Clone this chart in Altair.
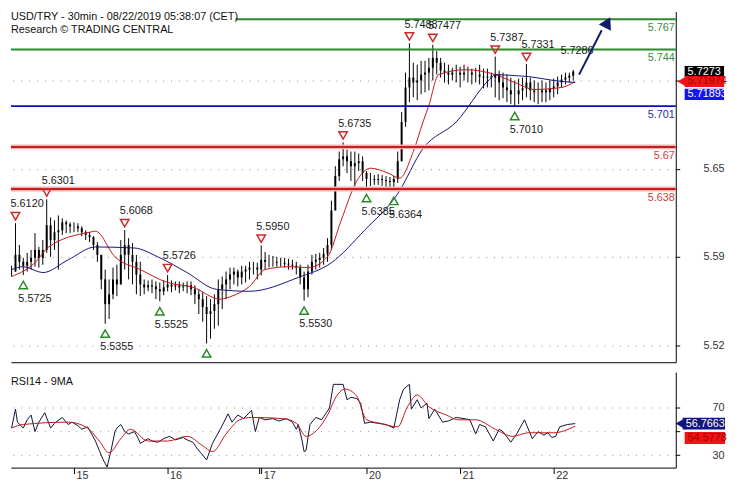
import altair as alt
import pandas as pd

FONT = "Liberation Sans"

# ---------------- data ----------------
# hourly bars, x = hours since 15 Aug 00:00 (weekend squeezed)
HOURS = list(range(-16, 129))
HIGH = [5.5796, 5.6120, 5.5954, 5.5856, 5.5894, 5.5916, 5.6044, 5.5939, 5.5991, 5.6301,
        5.6164, 5.6141, 5.6179, 5.6156, 5.6141, 5.6126, 5.6126, 5.6119, 5.6096, 5.6066,
        5.6051, 5.6021, 5.5976, 5.5879, 5.5767, 5.5692, 5.5782, 5.5804, 5.5991, 5.6068,
        5.6006, 5.5969, 5.5879, 5.5826, 5.5692, 5.5684, 5.5692, 5.5677, 5.5669, 5.5684,
        5.5726, 5.5684, 5.5677, 5.5677, 5.5669, 5.5677, 5.5677, 5.5647, 5.5617, 5.5594,
        5.5565, 5.5542, 5.5579, 5.5692, 5.5714, 5.5752, 5.5782, 5.5782, 5.5767, 5.5796,
        5.5796, 5.5826, 5.5826, 5.5819, 5.5950, 5.5901, 5.5879, 5.5871, 5.5864, 5.5856,
        5.5856, 5.5849, 5.5841, 5.5826, 5.5804, 5.5752, 5.5804, 5.5879, 5.5886, 5.5894,
        5.5931, 5.6006, 5.6291, 5.6553, 5.6665, 5.6735, 5.6680, 5.6665, 5.6665, 5.6650,
        5.6628, 5.6516, 5.6501, 5.6486, 5.6493, 5.6486, 5.6478, 5.6471, 5.6478, 5.6665,
        5.6965, 5.7265, 5.7488, 5.7340, 5.7325, 5.7355, 5.7355, 5.7377, 5.7477, 5.7429,
        5.7377, 5.7340, 5.7325, 5.7302, 5.7325, 5.7310, 5.7325, 5.7310, 5.7295, 5.7302,
        5.7325, 5.7295, 5.7295, 5.7265, 5.7387, 5.7280, 5.7265, 5.7250, 5.7227, 5.7205,
        5.7220, 5.7227, 5.7331, 5.7227, 5.7205, 5.7190, 5.7205, 5.7190, 5.7205, 5.7220,
        5.7235, 5.7250, 5.7265, 5.7265, 5.7286]
LOW = [5.5714, 5.5752, 5.5767, 5.5725, 5.5752, 5.5767, 5.5789, 5.5782, 5.5804, 5.5894,
       5.5864, 5.5916, 5.5767, 5.6029, 5.6044, 5.6044, 5.6051, 5.6051, 5.6021, 5.5991,
       5.5976, 5.5916, 5.5826, 5.5617, 5.5355, 5.5392, 5.5542, 5.5565, 5.5654, 5.5767,
       5.5692, 5.5654, 5.5579, 5.5565, 5.5579, 5.5602, 5.5587, 5.5542, 5.5525, 5.5572,
       5.5602, 5.5594, 5.5609, 5.5587, 5.5602, 5.5587, 5.5572, 5.5504, 5.5429, 5.5370,
       5.5205, 5.5242, 5.5317, 5.5340, 5.5467, 5.5542, 5.5617, 5.5654, 5.5639, 5.5654,
       5.5669, 5.5692, 5.5729, 5.5692, 5.5722, 5.5767, 5.5782, 5.5789, 5.5789, 5.5789,
       5.5782, 5.5767, 5.5767, 5.5729, 5.5654, 5.5530, 5.5557, 5.5729, 5.5767, 5.5782,
       5.5804, 5.5826, 5.5916, 5.6253, 5.6441, 5.6553, 5.6501, 5.6441, 5.6403, 5.6516,
       5.6441, 5.6385, 5.6403, 5.6411, 5.6411, 5.6403, 5.6396, 5.6396, 5.6364, 5.6426,
       5.6591, 5.6853, 5.7040, 5.7077, 5.7055, 5.7100, 5.7115, 5.7130, 5.7205, 5.7250,
       5.7227, 5.7190, 5.7175, 5.7205, 5.7190, 5.7152, 5.7205, 5.7190, 5.7175, 5.7190,
       5.7175, 5.7145, 5.7152, 5.7152, 5.7077, 5.7055, 5.7070, 5.7040, 5.7025, 5.7010,
       5.7025, 5.7055, 5.7077, 5.7055, 5.7040, 5.7025, 5.7040, 5.7040, 5.7055, 5.7077,
       5.7100, 5.7152, 5.7175, 5.7190, 5.7205]
CLOSE = [5.5752, 5.5879, 5.5826, 5.5796, 5.5826, 5.5856, 5.5916, 5.5856, 5.5916, 5.6104,
         5.5991, 5.6051, 5.6066, 5.6126, 5.6111, 5.6096, 5.6096, 5.6081, 5.6051, 5.6029,
         5.6014, 5.5954, 5.5879, 5.5692, 5.5504, 5.5579, 5.5692, 5.5654, 5.5879, 5.5954,
         5.5879, 5.5826, 5.5729, 5.5654, 5.5632, 5.5647, 5.5639, 5.5617, 5.5602, 5.5632,
         5.5654, 5.5639, 5.5647, 5.5632, 5.5639, 5.5647, 5.5617, 5.5579, 5.5542, 5.5482,
         5.5429, 5.5452, 5.5504, 5.5617, 5.5654, 5.5692, 5.5729, 5.5752, 5.5707, 5.5752,
         5.5767, 5.5782, 5.5782, 5.5767, 5.5841, 5.5826, 5.5826, 5.5826, 5.5819, 5.5819,
         5.5811, 5.5804, 5.5796, 5.5782, 5.5707, 5.5617, 5.5752, 5.5826, 5.5841, 5.5856,
         5.5886, 5.5954, 5.6216, 5.6478, 5.6606, 5.6628, 5.6591, 5.6553, 5.6576, 5.6591,
         5.6501, 5.6456, 5.6456, 5.6448, 5.6456, 5.6448, 5.6441, 5.6433, 5.6456, 5.6591,
         5.6890, 5.7152, 5.7227, 5.7190, 5.7205, 5.7250, 5.7265, 5.7302, 5.7377, 5.7340,
         5.7280, 5.7265, 5.7250, 5.7265, 5.7265, 5.7250, 5.7265, 5.7265, 5.7250, 5.7250,
         5.7235, 5.7227, 5.7235, 5.7227, 5.7250, 5.7190, 5.7152, 5.7130, 5.7100, 5.7100,
         5.7130, 5.7145, 5.7190, 5.7130, 5.7115, 5.7115, 5.7130, 5.7115, 5.7145, 5.7160,
         5.7190, 5.7212, 5.7227, 5.7242, 5.7273]

RED_MA_H = [-16, -10, -6.5, 4, 5.5, 10.5, 17, 24, 30.5, 37.5, 40.5, 45, 49, 55, 60, 65,
            68.5, 72.5, 76, 80.5, 83.5, 87, 89.5, 91, 93.5, 100.5, 108, 113, 118, 125, 128.5]
RED_MA = [5.5714, 5.5819, 5.5939, 5.6051, 5.6059, 5.5864, 5.5767, 5.5669, 5.5632, 5.5542,
          5.5565, 5.5639, 5.5767, 5.5789, 5.5782, 5.5864, 5.6141, 5.6441, 5.6538, 5.6501,
          5.6463, 5.6665, 5.6890, 5.7017, 5.7250, 5.7287, 5.7250, 5.7190, 5.7137, 5.7152,
          5.71974]
BLUE_MA_H = [-16, -13, -8, -1.5, 5.5, 15.5, 21.5, 29, 36.5, 45, 57.5, 66, 74.5, 83, 89.5,
             98, 106.5, 108, 113, 116.5, 123, 128.5]
BLUE_MA = [5.5767, 5.5789, 5.5744, 5.5841, 5.5939, 5.5931, 5.5864, 5.5744, 5.5617, 5.5602,
           5.5707, 5.5819, 5.6066, 5.6344, 5.6688, 5.6890, 5.7212, 5.7250, 5.7242, 5.7235,
           5.7205, 5.71893]

PEAK_H = [-15, -7, 13, 24, 48, 69, 86, 92, 108, 116]
PEAK_P = [5.6120, 5.6301, 5.6068, 5.5726, 5.5950, 5.6735, 5.7488, 5.7477, 5.7387, 5.7331]
TROUGH_H = [-13, 8, 22, 34, 59, 75, 82, 113]
TROUGH_P = [5.5725, 5.5355, 5.5525, 5.5205, 5.5530, 5.6385, 5.6364, 5.7010]
TROUGH_SHOWN = [True, True, True, False, True, True, True, True]

LEVELS = [5.767, 5.744, 5.701, 5.67, 5.638]
LEVEL_TXT = ["5.767", "5.744", "5.701", "5.67", "5.638"]
LEVEL_LINE = ["#2a8a2a", "#2a8a2a", "#0c10a8", "#c41e1e", "#c41e1e"]
LEVEL_TEXT = ["#3c8c3c", "#3c8c3c", "#2e2e9a", "#d23c3c", "#d23c3c"]

ARROW_H = [129.5, 135.3]
ARROW_P = [5.7250, 5.7587]
ARROW_HEAD_H = [136.8]
ARROW_HEAD_P = [5.7647]

LAST_HIGH_H, LAST_HIGH = 128, 5.7286
LAST_CLOSE = 5.7273
LAST_RED_MA = 5.71974
LAST_BLUE_MA = 5.71893

RSI_H = [-16, -15, -14.5, -13, -12, -11, -10, -9, -7.5, -6,
         -5, -3, -1.5, -0.5, 1, 2, 3.5, 4.5, 5.5, 6.5,
         7.5, 8.5, 9.5, 10.5, 11, 12, 13, 14, 15.5, 16.5,
         17, 19, 20, 21.5, 23, 24.5, 26, 28, 29, 30.5,
         31.5, 32.5, 34, 35.5, 37.5, 39.5, 40.5, 42, 43.5, 45.5,
         46.5, 47.5, 49, 51, 52.5, 54.5, 56, 57, 57.5, 58.5,
         59, 59.5, 60.5, 62, 63.5, 65.5, 66.5, 69, 70, 71,
         72.5, 73.5, 74.5, 76, 78, 80, 82, 83.5, 84.5, 86,
         86.5, 88, 89, 90.5, 91, 92.5, 94.5, 96, 98, 100,
         101.5, 103, 104, 105.5, 107.5, 109, 110, 112, 113.5, 115.5,
         117.5, 119, 120.5, 121.5, 122.5, 123.5, 124.5, 126.5, 128.5]
RSI_V = [53, 69, 58, 53, 60, 64, 50, 58, 66, 53,
         57, 62, 56, 58, 55, 52, 54, 48, 42, 34,
         26, 20, 34, 50, 53, 56, 50, 48, 50, 44,
         40, 44, 42, 41, 44, 46, 43, 45, 43, 41,
         36, 32, 26, 40, 52, 65, 58, 64, 61, 68,
         50, 62, 60, 61, 59, 61, 58, 52, 56, 42,
         33, 34, 56, 62, 60, 70, 90, 90, 77, 79,
         78, 74, 57, 58, 57, 56, 53, 77, 86, 90,
         69, 77, 70, 74, 61, 69, 58, 59, 62, 61,
         60, 48, 56, 54, 42, 52, 50, 41, 48, 60,
         44, 50, 47, 49, 45, 46, 54, 56, 56.7663]
RSIMA_H = [-16, -13, -1.5, 3, 6.5, 9, 12, 14.5, 19, 24, 29, 33, 35.5, 39, 42.5, 45.5, 53.5,
           57, 59.5, 62.5, 65, 67.5, 69.5, 72.5, 75, 78.5, 83, 85.5, 88, 91, 95.5, 98.5,
           103, 108, 112.5, 116.5, 123, 128.5]
RSIMA_V = [53, 56, 58, 54, 42, 32, 44, 52, 42, 42, 46, 38, 33, 48, 60, 62, 61, 57, 46, 52,
           64, 81, 86, 80, 60, 57, 54, 71, 81, 71, 64, 60, 60, 52, 46, 49, 49, 54.5778]

PRICE_TICKS = [5.7205, 5.6534, 5.5866, 5.5192]
RSI_TICKS = [70, 50, 30]
DAY_TICKS = [0, 24, 47.4, 48, 75, 99, 123]
DAY_LABELS = ["15", "16", "", "17", "20", "21", "22"]

TITLE1 = "USD/TRY - 30min - 08/22/2019 05:38:07 (CET)"
TITLE2 = "Research \u00a9 TRADING CENTRAL"

# ---------------- layout ----------------
W, H1, H2 = 675, 356, 97
XS = alt.Scale(domain=[-16.162, 154.293], nice=False, zero=False)
YS = alt.Scale(domain=[5.50624, 5.77291], nice=False, zero=False)
RYS = alt.Scale(domain=[19.5, 100.4], nice=False, zero=False)

XAX = alt.Axis(labels=False, ticks=False, grid=False, title=None, domainColor="black")
YAX = alt.Axis(orient="right", values=PRICE_TICKS,
               labelExpr="datum.value > 5.7 ? '' : format(datum.value, '.2f')",
               title=None, grid=True, gridDash=[1, 7], gridColor="#8c8c8c",
               tickSize=4, tickColor="black", domainColor="black",
               labelAlign="right", labelPadding=45, labelColor="#333333",
               labelFontSize=11, labelFont=FONT)

day_expr = "''"
for v, l in reversed(list(zip(DAY_TICKS, DAY_LABELS))):
    day_expr = f"datum.value == {v} ? '{l}' : {day_expr}"

RXAX = alt.Axis(values=DAY_TICKS, labelExpr=day_expr, tickSize=6, labelAlign="left",
                labelBaseline="top", labelPadding=-4, labelOffset=2, labelFlush=False,
                labelOverlap=False, grid=False, title=None, domainColor="black",
                tickColor="black", labelColor="#333333", labelFontSize=11, labelFont=FONT)
RYAX = alt.Axis(orient="right", values=RSI_TICKS,
                labelExpr="datum.value == 50 ? '' : datum.label",
                title=None, grid=True, gridDash=[1, 7], gridColor="#8c8c8c",
                tickSize=4, tickColor="black", domainColor="black",
                labelAlign="right", labelPadding=45, labelColor="#333333",
                labelFontSize=11, labelFont=FONT)


def X(f):
    return alt.X(f"{f}:Q", scale=XS, axis=XAX)


def Y(f):
    return alt.Y(f"{f}:Q", scale=YS, axis=YAX)


def RX(f):
    return alt.X(f"{f}:Q", scale=XS, axis=RXAX)


def RY(f):
    return alt.Y(f"{f}:Q", scale=RYS, axis=RYAX)


bars = pd.DataFrame({"h": HOURS, "high": HIGH, "low": LOW, "close": CLOSE})
bars["open"] = bars["close"].shift(1).fillna(bars["close"])

red_ma = pd.DataFrame({"h": RED_MA_H, "p": RED_MA})
blue_ma = pd.DataFrame({"h": BLUE_MA_H, "p": BLUE_MA})
peaks = pd.DataFrame({"h": PEAK_H, "p": PEAK_P, "t": [f"{p:.4f}" for p in PEAK_P]})
troughs = pd.DataFrame({"h": TROUGH_H, "p": TROUGH_P,
                        "t": [f"{p:.4f}" if s else "" for p, s in zip(TROUGH_P, TROUGH_SHOWN)]})
levels = pd.DataFrame({"p": LEVELS, "t": LEVEL_TXT, "lc": LEVEL_LINE, "tc": LEVEL_TEXT})
arrow = pd.DataFrame({"h": ARROW_H, "p": ARROW_P})
arrow_head = pd.DataFrame({"h": ARROW_HEAD_H, "p": ARROW_HEAD_P})
last_high = pd.DataFrame({"h": [LAST_HIGH_H], "p": [LAST_HIGH], "t": [f"{LAST_HIGH:.4f}"]})
titles = pd.DataFrame({"t1": [TITLE1], "t2": [TITLE2]})

wick = alt.Chart(bars).mark_rule(color="black", strokeWidth=1).encode(
    x=X("h"), y=Y("low"), y2="high:Q")
body = alt.Chart(bars).mark_rule(color="black", strokeWidth=2).encode(
    x=X("h"), y=Y("open"), y2="close:Q")
red_line = alt.Chart(red_ma).mark_line(color="#c0161c", strokeWidth=1, interpolate="monotone").encode(
    x=X("h"), y=Y("p"))
blue_line = alt.Chart(blue_ma).mark_line(color="#14147a", strokeWidth=1, interpolate="monotone").encode(
    x=X("h"), y=Y("p"))

lv_top = levels.iloc[:1]
lv_rest = levels.iloc[1:]
lv_red = levels[levels["lc"] == "#c41e1e"]
halo = alt.Chart(lv_red).mark_rule(color="#f2b0b0", strokeWidth=5).encode(
    y=Y("p"), x=alt.value(0), x2=alt.value(W))
lv_lines = alt.Chart(lv_rest).mark_rule(strokeWidth=2).encode(
    y=Y("p"), x=alt.value(0), x2=alt.value(W), color=alt.Color("lc:N", scale=None))
lv_top_line = alt.Chart(lv_top).mark_rule(strokeWidth=2).encode(
    y=Y("p"), x=alt.value(152), x2=alt.value(W), color=alt.Color("lc:N", scale=None))
lv_text = alt.Chart(levels).mark_text(align="right", baseline="top", dy=3, fontSize=11, font=FONT).encode(
    y=Y("p"), x=alt.value(W - 1), text="t:N", color=alt.Color("tc:N", scale=None))

peak_tri = alt.Chart(peaks).mark_point(shape="triangle-down", filled=False, size=75, strokeWidth=1.5,
                                       color="#cc2b2b", opacity=1, yOffset=-7).encode(x=X("h"), y=Y("p"))
peak_txt = alt.Chart(peaks).mark_text(align="left", baseline="middle", dx=-5, dy=-19, fontSize=11,
                                      font=FONT, color="#1a1a1a").encode(x=X("h"), y=Y("p"), text="t:N")
tr_tri = alt.Chart(troughs).mark_point(shape="triangle-up", filled=False, size=75, strokeWidth=1.5,
                                       color="#2a8a2a", opacity=1, yOffset=10).encode(x=X("h"), y=Y("p"))
tr_txt = alt.Chart(troughs).mark_text(align="left", baseline="middle", dx=-5, dy=24, fontSize=11,
                                      font=FONT, color="#1a1a1a").encode(x=X("h"), y=Y("p"), text="t:N")
lh_txt = alt.Chart(last_high).mark_text(align="left", baseline="middle", dx=-13, dy=-19, fontSize=11,
                                        font=FONT, color="#1a1a1a").encode(x=X("h"), y=Y("p"), text="t:N")

arrow_line = alt.Chart(arrow).mark_line(color="#0e1a6c", strokeWidth=2).encode(x=X("h"), y=Y("p"))
arrow_tip = alt.Chart(arrow_head).mark_point(shape="triangle-up", filled=True, size=190, angle=27,
                                             color="#0e1a6c", opacity=1).encode(x=X("h"), y=Y("p"))

title_bg = alt.Chart(titles).mark_rect(color="white").encode(
    x=alt.value(0), x2=alt.value(228), y=alt.value(0), y2=alt.value(12))
title1 = alt.Chart(titles).mark_text(align="left", baseline="top", fontSize=11, font=FONT,
                                     color="#111111").encode(x=alt.value(0), y=alt.value(0), text="t1:N")
title2 = alt.Chart(titles).mark_text(align="left", baseline="top", fontSize=11, font=FONT,
                                     color="#111111").encode(x=alt.value(0), y=alt.value(13), text="t2:N")


def tag(value, text, bg, fg, x0, x1, half, yoff, arrow_on, yfun):
    df = pd.DataFrame({"v": [value], "t": [text]})
    base = alt.Chart(df).transform_calculate(top=f"datum.v + {half}", bot=f"datum.v - {half}")
    out = []
    if arrow_on:
        out.append(base.mark_point(shape="triangle-left", filled=True, size=144, color=bg, opacity=1,
                                   yOffset=yoff).encode(x=alt.value(x0 - 2), y=yfun("v")))
    out.append(base.mark_rect(color=bg, yOffset=yoff, y2Offset=yoff).encode(
        x=alt.value(x0), x2=alt.value(x1), y=yfun("top"), y2="bot:Q"))
    out.append(base.mark_text(align="left", baseline="middle", color=fg, fontSize=11, font=FONT,
                              yOffset=yoff).encode(x=alt.value(x0 + 3), y=yfun("v"), text="t:N"))
    return out


MH = 5.7 * (YS.domain[1] - YS.domain[0]) / H1
RH = 6 * (RYS.domain[1] - RYS.domain[0]) / H2

main_layers = [wick, body, red_line, blue_line, halo, lv_lines, lv_top_line, lv_text,
               peak_tri, peak_txt, tr_tri, tr_txt, lh_txt, arrow_line, arrow_tip,
               title_bg, title1, title2]
main_layers += tag(LAST_CLOSE, f"{LAST_CLOSE:.4f}", "#000000", "#ffffff", 684, 724, MH, 0, False, Y)
main_layers += tag(LAST_RED_MA, f"{LAST_RED_MA:.5f}", "#f01414", "#a80000", 684, 724, MH, 0, True, Y)
main_layers += tag(LAST_BLUE_MA, f"{LAST_BLUE_MA:.5f}", "#1414ee", "#ffffff", 684, 724, MH, 12, False, Y)

main = alt.layer(*main_layers).properties(width=W, height=H1)

rsi_df = pd.DataFrame({"h": RSI_H, "v": RSI_V})
rsima_df = pd.DataFrame({"h": RSIMA_H, "v": RSIMA_V})
rsi_line = alt.Chart(rsi_df).mark_line(color="#101034", strokeWidth=1).encode(x=RX("h"), y=RY("v"))
rsima_line = alt.Chart(rsima_df).mark_line(color="#c0161c", strokeWidth=1, interpolate="monotone").encode(
    x=RX("h"), y=RY("v"))
rsi_title = alt.Chart(pd.DataFrame({"t": ["RSI14 - 9MA"]})).mark_text(
    align="left", baseline="top", fontSize=11, font=FONT, color="#111111").encode(
    x=alt.value(0), y=alt.value(4), text="t:N")

rsi_layers = [rsi_line, rsima_line, rsi_title]
rsi_layers += tag(RSI_V[-1], f"{RSI_V[-1]:.4f}", "#14147e", "#ffffff", 682, 725, RH, 0, True, RY)
rsi_layers += tag(RSIMA_V[-1], f"{RSIMA_V[-1]:.4f}", "#f01414", "#a80000", 684, 725, RH, 12, False, RY)

rsi = alt.layer(*rsi_layers).properties(width=W, height=H2)

chart = alt.vconcat(main, rsi, spacing=0).properties(padding=0).configure_view(
    stroke=None).configure_axis(labelFont=FONT)

chart.save("out.html", embed_options={"renderer": "svg", "actions": False})
